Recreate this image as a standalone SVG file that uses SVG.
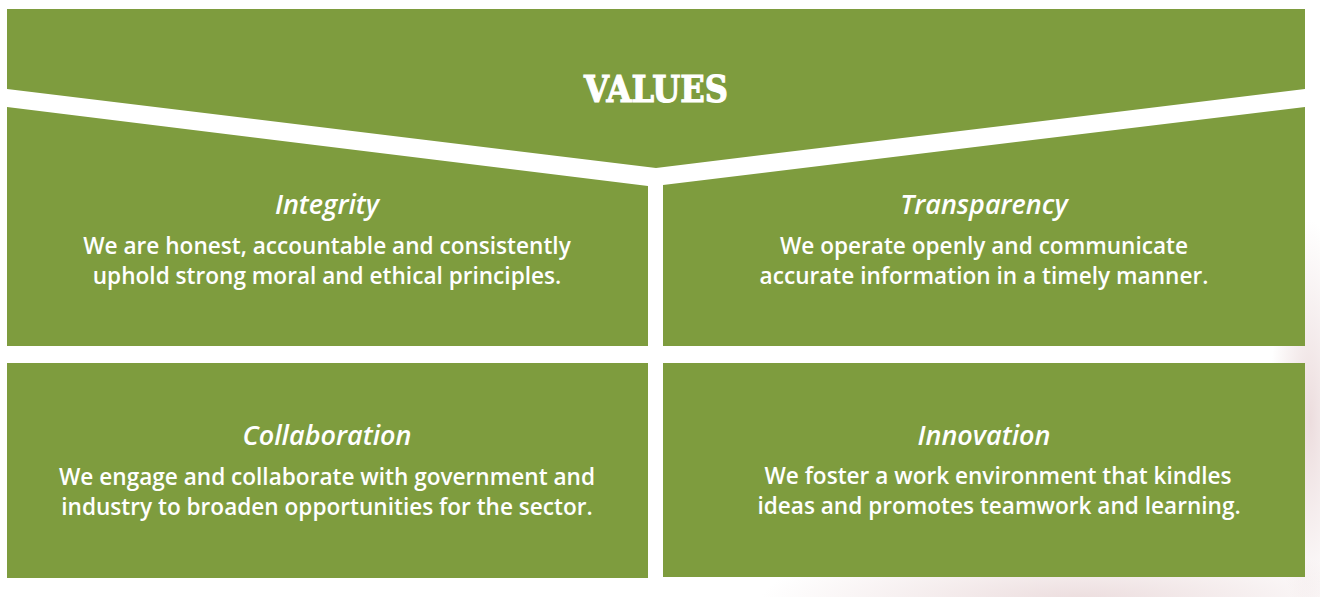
<svg xmlns="http://www.w3.org/2000/svg" width="1320" height="597" viewBox="0 0 1320 597">
<defs>
<style>
.box{fill:#7e9c3e}
.h{font-family:"DejaVu Serif",serif;font-weight:bold;fill:#fff;stroke:#fff;stroke-width:1.2;text-anchor:middle}
.t{font-family:"Open Sans","Liberation Sans",sans-serif;font-style:italic;font-weight:600;font-size:27px;fill:#fff;text-anchor:middle}
.b{font-family:"Open Sans","Liberation Sans",sans-serif;font-weight:600;font-size:22.6px;fill:#fff;text-anchor:middle}
</style>
<radialGradient id="bg1" cx="0.5" cy="0.5" r="0.5">
<stop offset="0" stop-color="#ead9da" stop-opacity="0.9"/>
<stop offset="1" stop-color="#ead9da" stop-opacity="0"/>
</radialGradient>
</defs>
<rect width="1320" height="597" fill="#fff"/>
<ellipse cx="1080" cy="600" rx="320" ry="60" fill="url(#bg1)"/>
<ellipse cx="1310" cy="420" rx="40" ry="200" fill="url(#bg1)"/>
<g id="values">
<polygon class="box" points="7,9 1305,9 1305,89 656,168 7,89"/>
<text class="h" x="656" y="102" font-size="38" textLength="144" lengthAdjust="spacingAndGlyphs">VALUES</text>
</g>
<g id="integrity">
<polygon class="box" points="7,107 648,186 648,346 7,346"/>
<text class="t" x="327" y="214">Integrity</text>
<text class="b" x="327" y="254">We are honest, accountable and consistently</text>
<text class="b" x="327" y="284">uphold strong moral and ethical principles.</text>
</g>
<g id="transparency">
<polygon class="box" points="663,185 1305,107 1305,346 663,346"/>
<text class="t" x="984" y="214">Transparency</text>
<text class="b" x="984" y="254">We operate openly and communicate</text>
<text class="b" x="984" y="284">accurate information in a timely manner.</text>
</g>
<g id="collaboration">
<rect class="box" x="7" y="363" width="641" height="215"/>
<text class="t" x="327" y="445">Collaboration</text>
<text class="b" x="327" y="485">We engage and collaborate with government and</text>
<text class="b" x="327" y="515">industry to broaden opportunities for the sector.</text>
</g>
<g id="innovation">
<rect class="box" x="663" y="363" width="642" height="214"/>
<text class="t" x="984" y="445">Innovation</text>
<text class="b" x="998" y="484">We foster a work environment that kindles</text>
<text class="b" x="999" y="514">ideas and promotes teamwork and learning.</text>
</g>
<g id="connectors"></g>
</svg>
